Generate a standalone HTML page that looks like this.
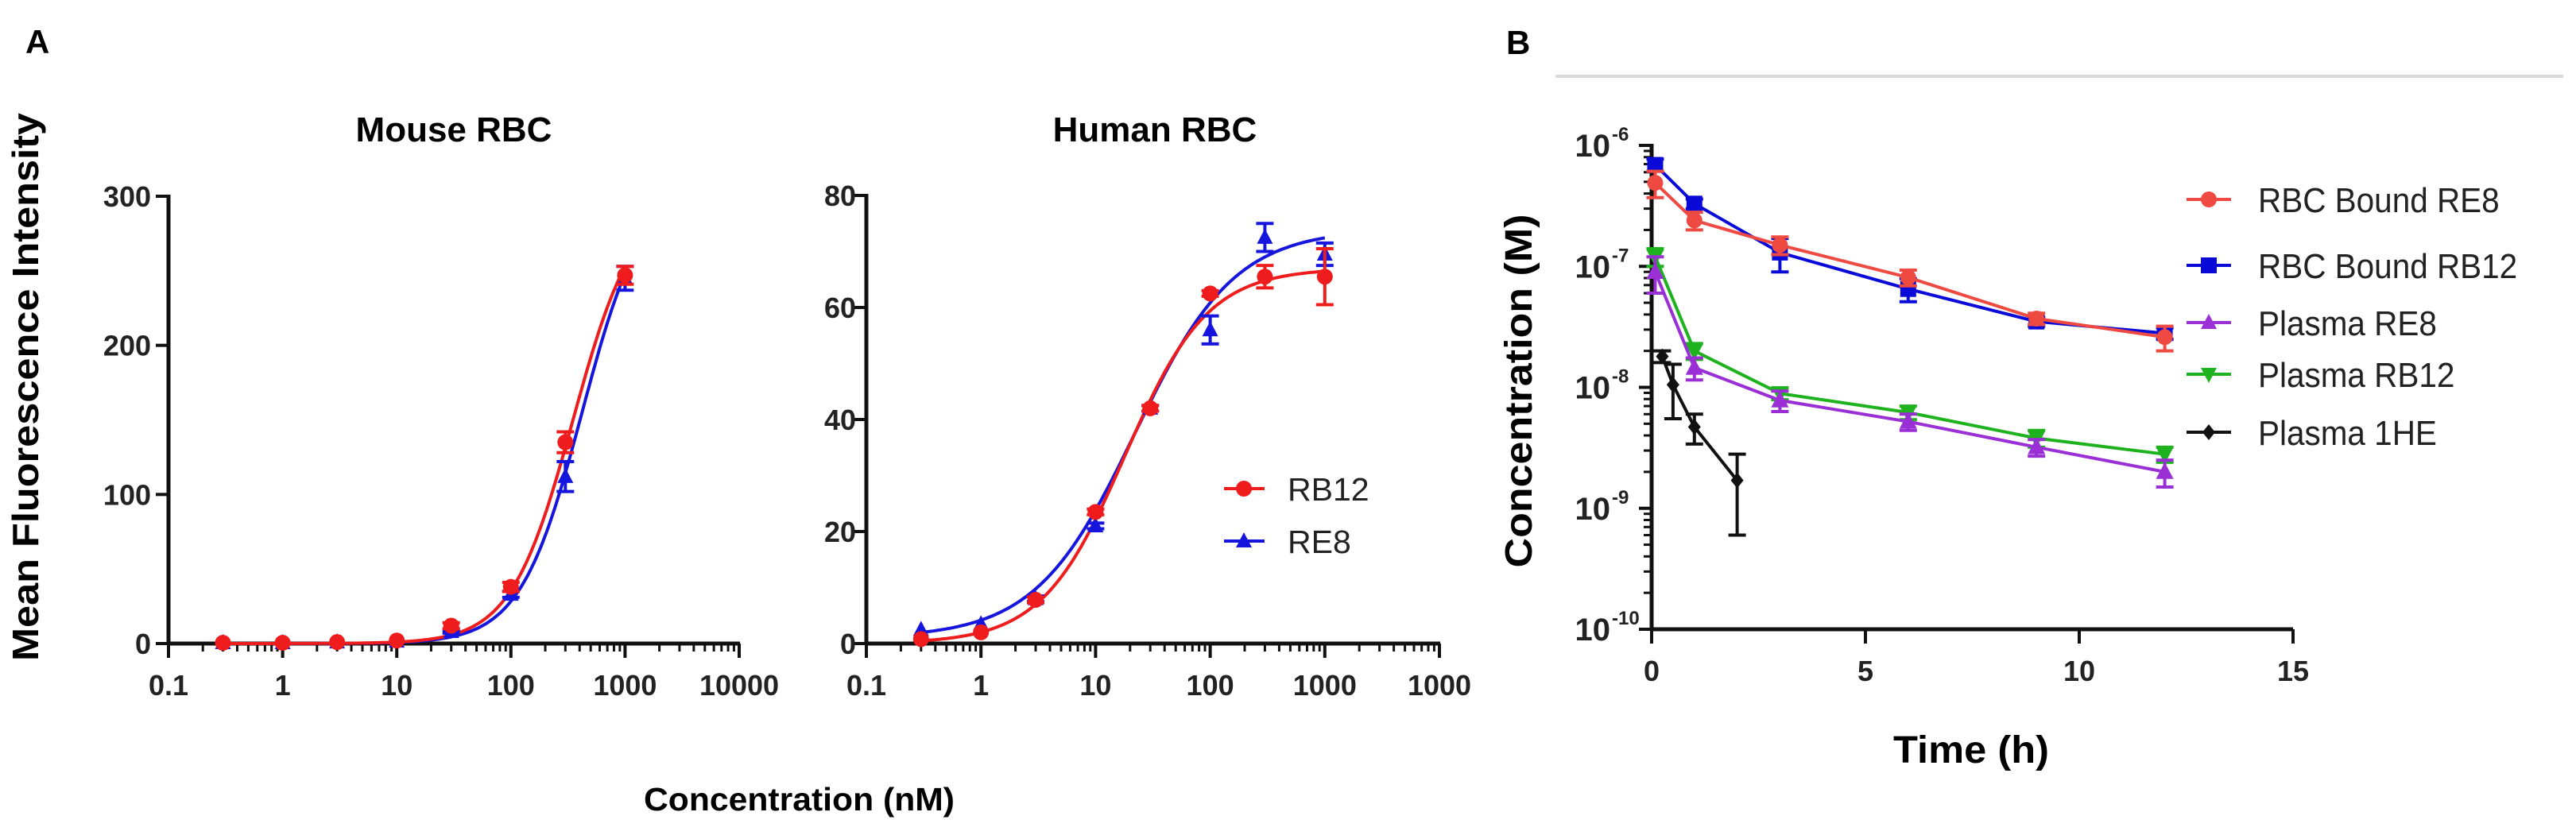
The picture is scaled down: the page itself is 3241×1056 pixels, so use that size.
<!DOCTYPE html>
<html><head><meta charset="utf-8"><style>
html,body{margin:0;padding:0;background:#fff;}
svg{display:block;font-family:"Liberation Sans",Arial,sans-serif;}
</style></head><body>
<svg id="fig" width="3241" height="1056" viewBox="0 0 3241 1056" xmlns="http://www.w3.org/2000/svg">
<rect width="3241" height="1056" fill="#fff"/>
<text x="32" y="67" font-size="42" font-weight="bold">A</text>
<text x="1895" y="68" font-size="42" font-weight="bold">B</text>
<line x1="1957" y1="96" x2="3225" y2="96" stroke="#d8d8d8" stroke-width="4"/>
<text x="571" y="178" font-size="44" font-weight="bold" text-anchor="middle">Mouse RBC</text>
<text x="1453" y="178" font-size="44" font-weight="bold" text-anchor="middle">Human RBC</text>
<text transform="translate(48,487) rotate(-90)" font-size="46" font-weight="bold" text-anchor="middle" textLength="690" lengthAdjust="spacingAndGlyphs">Mean Fluorescence Intensity</text>
<text x="810" y="1020" font-size="41" font-weight="bold" textLength="391" lengthAdjust="spacingAndGlyphs">Concentration (nM)</text>
<text transform="translate(1927,492) rotate(-90)" font-size="48" font-weight="bold" text-anchor="middle" textLength="445" lengthAdjust="spacingAndGlyphs">Concentration (M)</text>
<text x="2480" y="960" font-size="48" font-weight="bold" text-anchor="middle" textLength="196" lengthAdjust="spacingAndGlyphs">Time (h)</text>
<g id="layer"></g>
</svg>
<script>
// ---- Panel A data ----
const concA = [0.3, 1, 3, 10, 30, 100, 300, 1000];
const mouseRB12 = [0.5, 0.5, 1, 2, 12, 38, 135, 247];
const mouseRB12Err = [0, 0, 0, 0, 2, 3, 7, 6];
const mouseRE8 = [0.5, 0.5, 1, 1.5, 8, 33, 112, 245];
const mouseRE8Err = [0, 0, 0, 0, 1, 2, 10, 8];
const humanRB12 = [0.8, 2, 7.8, 23.5, 42, 62.5, 65.5, 65.5];
const humanRB12Err = [0, 0, 0.5, 0.5, 0.5, 0.5, 2, 5];
const humanRE8 = [2.5, 3.5, 8, 21, 42, 56, 72.5, 69.5];
const humanRE8Err = [0, 0, 0.5, 0.5, 0.5, 2.5, 2.5, 2];
// fit params [bottom, top, ec50, hill]
const fitMouseRB12 = [0, 300, 350, 1.6];
const fitMouseRE8 = [0, 310, 420, 1.6];
const fitHumanRB12 = [0, 67, 18, 1.2];
const fitHumanRE8 = [1, 74, 22, 1.0];
const xTickLabelsMouse = ["0.1","1","10","100","1000","10000"];
const xTickLabelsHuman = ["0.1","1","10","100","1000","1000"];
const yTicksMouse = [0, 100, 200, 300];
const yTicksHuman = [0, 20, 40, 60, 80];
// ---- Panel B data ----
const timeRBC = [0.083, 1, 3, 6, 9, 12];
const rbcRE8 = [4.9e-7, 2.4e-7, 1.5e-7, 8.1e-8, 3.7e-8, 2.6e-8];
const rbcRE8Err = [1.2e-7, 4e-8, 2.5e-8, 1.2e-8, 4e-9, 6e-9];
const rbcRB12 = [6.9e-7, 3.3e-7, 1.3e-7, 6.5e-8, 3.5e-8, 2.8e-8];
const rbcRB12Err = [8e-8, 3e-8, 4e-8, 1.4e-8, 3e-9, 3e-9];
const plasmaRE8 = [9e-8, 1.45e-8, 7.8e-9, 5.2e-9, 3.2e-9, 2.0e-9];
const plasmaRE8Err = [3e-8, 3e-9, 1.5e-9, 8e-10, 5e-10, 5e-10];
const plasmaRB12 = [1.2e-7, 2.0e-8, 8.9e-9, 6.2e-9, 3.8e-9, 2.8e-9];
const plasmaRB12Err = [2e-8, 3e-9, 1e-9, 8e-10, 6e-10, 4e-10];
const time1HE = [0.25, 0.5, 1, 2];
const plasma1HE = [1.8e-8, 1.05e-8, 4.7e-9, 1.7e-9];
const plasma1HEErr = [2e-9, 5e-9, 1.3e-9, 1.1e-9];
const xTicksB = [0, 5, 10, 15];
const yExpB = [-6, -7, -8, -9, -10];

const NS = "http://www.w3.org/2000/svg";
const layer = document.getElementById('layer');
function mk(tag, attrs, parent) {
  const e = document.createElementNS(NS, tag);
  for (const k in attrs) e.setAttribute(k, attrs[k]);
  (parent || layer).appendChild(e);
  return e;
}
function grp(name) {
  const g = mk('g', {});
  
  
  return g;
}

// ---- axis functions ----
function logX(x0, dec) { return v => x0 + (Math.log10(v) + 1) * dec; }
const mxS = logX(212, 143.6), myS = v => 810 - v * 563 / 300;
const hxS = logX(1090, 144.2), hyS = v => 810 - v * 564 / 80;
const bxS = t => 2078 + t * 53.8, byS = v => 183 + (-6 - Math.log10(v)) * 152.25;

function drawLogPanel(prefix, xS, yS, x0, x1, yTicks, xLabels, labelRight) {
  const ax = grp(prefix + '-axes');
  mk('line', {x1: x0, y1: 810, x2: x1, y2: 810, stroke: '#111', 'stroke-width': 5}, ax);
  mk('line', {x1: x0, y1: 810, x2: x0, y2: yS(yTicks[yTicks.length - 1]) - 2, stroke: '#111', 'stroke-width': 5}, ax);
  for (let d = -1; d <= 4; d++) {
    const p = Math.pow(10, d);
    mk('line', {x1: xS(p), y1: 810, x2: xS(p), y2: 828, stroke: '#111', 'stroke-width': 4}, ax);
    const t = mk('text', {x: xS(p), y: 875, 'font-size': 36, 'font-weight': 'bold', 'text-anchor': 'middle', fill: '#222'}, ax);
    
    
    t.textContent = xLabels[d + 1];
    if (d < 4) for (let m = 2; m <= 9; m++) {
      const xx = xS(m * p);
      mk('line', {x1: xx, y1: 810, x2: xx, y2: 820, stroke: '#111', 'stroke-width': 3}, ax);
    }
  }
  yTicks.forEach(v => {
    mk('line', {x1: x0 - 16, y1: yS(v), x2: x0, y2: yS(v), stroke: '#111', 'stroke-width': 4}, ax);
    const t = mk('text', {x: labelRight, y: yS(v) + 13, 'font-size': 36, 'font-weight': 'bold', 'text-anchor': 'end', fill: '#222'}, ax);
    
    
    t.textContent = v;
  });
}
drawLogPanel('mouse', mxS, myS, 212, 931, yTicksMouse, xTickLabelsMouse, 190);
drawLogPanel('human', hxS, hyS, 1090, 1812, yTicksHuman, xTickLabelsHuman, 1077);

function logistic(p, x) { return p[0] + (p[1] - p[0]) / (1 + Math.pow(p[2] / x, p[3])); }
function fitCurve(name, p, xS, yS, color) {
  let d = '';
  for (let i = 0; i <= 200; i++) {
    const lx = Math.log10(0.3) + i / 200 * (Math.log10(1000) - Math.log10(0.3));
    const x = Math.pow(10, lx);
    d += (i ? 'L' : 'M') + xS(x).toFixed(1) + ',' + yS(logistic(p, x)).toFixed(1);
  }
  const c = mk('path', {d: d, fill: 'none', stroke: color, 'stroke-width': 4});
  
  
}
function marker(g, shape, x, y, color, s) {
  if (shape === 'circle') return mk('circle', {cx: x, cy: y, r: s, fill: color}, g);
  if (shape === 'square') return mk('rect', {x: x - s, y: y - s, width: 2 * s, height: 2 * s, fill: color}, g);
  if (shape === 'tri') return mk('polygon', {points: `${x},${y - s * 1.1} ${x - s},${y + s * 0.8} ${x + s},${y + s * 0.8}`, fill: color}, g);
  if (shape === 'tridown') return mk('polygon', {points: `${x},${y + s * 1.1} ${x - s},${y - s * 0.8} ${x + s},${y - s * 0.8}`, fill: color}, g);
  if (shape === 'diamond') return mk('polygon', {points: `${x},${y - s} ${x + s * 0.8},${y} ${x},${y + s} ${x - s * 0.8},${y}`, fill: color}, g);
}
function points(name, xs, ys, errs, xS, yS, color, shape, s, lineOn) {
  const g = grp(name);
  if (lineOn) {
    let d = '';
    xs.forEach((x, i) => { d += (i ? 'L' : 'M') + xS(x).toFixed(1) + ',' + yS(ys[i]).toFixed(1); });
    mk('path', {d: d, fill: 'none', stroke: color, 'stroke-width': 4}, g);
  }
  xs.forEach((x, i) => {
    const e = errs[i];
    if (e > 0) {
      const lo = Math.max(ys[i] - e, 1e-12);
      const y1 = yS(ys[i] + e), y2 = yS(lo), cx = xS(x);
      mk('line', {x1: cx, y1: y1, x2: cx, y2: y2, stroke: color, 'stroke-width': 4}, g);
      mk('line', {x1: cx - 11, y1: y1, x2: cx + 11, y2: y1, stroke: color, 'stroke-width': 4}, g);
      mk('line', {x1: cx - 11, y1: y2, x2: cx + 11, y2: y2, stroke: color, 'stroke-width': 4}, g);
    }
    const m = marker(g, shape, xS(x), yS(ys[i]), color, s);
    
    
  });
}
const RED = '#ee1c1c', BLUE = '#1515dd';
fitCurve('mouse-re8-fit', fitMouseRE8, mxS, myS, BLUE);
fitCurve('mouse-rb12-fit', fitMouseRB12, mxS, myS, RED);
points('mouse-re8', concA, mouseRE8, mouseRE8Err, mxS, myS, BLUE, 'tri', 10, false);
points('mouse-rb12', concA, mouseRB12, mouseRB12Err, mxS, myS, RED, 'circle', 10, false);
fitCurve('human-re8-fit', fitHumanRE8, hxS, hyS, BLUE);
fitCurve('human-rb12-fit', fitHumanRB12, hxS, hyS, RED);
points('human-re8', concA, humanRE8, humanRE8Err, hxS, hyS, BLUE, 'tri', 10, false);
points('human-rb12', concA, humanRB12, humanRB12Err, hxS, hyS, RED, 'circle', 10, false);

// Panel A legend
const lgA = grp('legend-a');
[['RB12', RED, 'circle', 615], ['RE8', BLUE, 'tri', 681]].forEach(r => {
  const e = grp('legend-entry');
  mk('line', {x1: 1540, y1: r[3], x2: 1591, y2: r[3], stroke: r[1], 'stroke-width': 4}, e);
  marker(e, r[2], 1565, r[3], r[1], 10);
  const t = mk('text', {x: 1620, y: r[3] + 15, 'font-size': 41, fill: '#222'}, e);
  t.textContent = r[0];
});

// ---- Panel B axes ----
const bAx = grp('panel-b-axes');
mk('line', {x1: 2078, y1: 792, x2: 2885, y2: 792, stroke: '#111', 'stroke-width': 5}, bAx);
mk('line', {x1: 2078, y1: 792, x2: 2078, y2: 181, stroke: '#111', 'stroke-width': 5}, bAx);
xTicksB.forEach(t => {
  mk('line', {x1: bxS(t), y1: 792, x2: bxS(t), y2: 810, stroke: '#111', 'stroke-width': 4}, bAx);
  const tx = mk('text', {x: bxS(t), y: 857, 'font-size': 36, 'font-weight': 'bold', 'text-anchor': 'middle', fill: '#222'}, bAx);
  
  
  tx.textContent = t;
});
yExpB.forEach((ex, i) => {
  const v = Math.pow(10, ex);
  mk('line', {x1: 2062, y1: byS(v), x2: 2078, y2: byS(v), stroke: '#111', 'stroke-width': 4}, bAx);
  const tx = mk('text', {x: 2026, y: byS(v) + 14, 'font-size': 40, 'font-weight': 'bold', 'text-anchor': 'end', fill: '#222'}, bAx);
  
  
  tx.textContent = '10';
  const sup = mk('text', {x: 2028, y: byS(v) - 6, 'font-size': 24, 'font-weight': 'bold', fill: '#222'}, bAx);
  sup.textContent = String(ex);
  if (i < yExpB.length - 1) for (let m = 2; m <= 9; m++) {
    const yy = byS(m * Math.pow(10, ex - 1));
    mk('line', {x1: 2068, y1: yy, x2: 2078, y2: yy, stroke: '#111', 'stroke-width': 3}, bAx);
  }
});
const C_RED = '#ee4a42', C_BLUE = '#0a0ad8', C_PUR = '#9a2fd6', C_GRN = '#1fb21f', C_BLK = '#111';
points('plasma-1he', time1HE, plasma1HE, plasma1HEErr, bxS, byS, C_BLK, 'diamond', 10, true);
points('plasma-rb12', timeRBC, plasmaRB12, plasmaRB12Err, bxS, byS, C_GRN, 'tridown', 11, true);
points('plasma-re8', timeRBC, plasmaRE8, plasmaRE8Err, bxS, byS, C_PUR, 'tri', 11, true);
points('rbc-bound-rb12', timeRBC, rbcRB12, rbcRB12Err, bxS, byS, C_BLUE, 'square', 10, true);
points('rbc-bound-re8', timeRBC, rbcRE8, rbcRE8Err, bxS, byS, C_RED, 'circle', 10, true);

// Panel B legend
const lgB = grp('legend-b');
[['RBC Bound RE8', C_RED, 'circle', 251], ['RBC Bound RB12', C_BLUE, 'square', 334],
 ['Plasma RE8', C_PUR, 'tri', 406], ['Plasma RB12', C_GRN, 'tridown', 471], ['Plasma 1HE', C_BLK, 'diamond', 544]].forEach(r => {
  const e = grp('legend-entry');
  mk('line', {x1: 2751, y1: r[3], x2: 2807, y2: r[3], stroke: r[1], 'stroke-width': 4}, e);
  marker(e, r[2], 2779, r[3], r[1], 10);
  const t = mk('text', {x: 2841, y: r[3] + 16, 'font-size': 44, fill: '#222', transform: `translate(${2841 * 0.08},0) scale(0.92,1)`}, e);
  t.textContent = r[0];
});
</script>
</body></html>
